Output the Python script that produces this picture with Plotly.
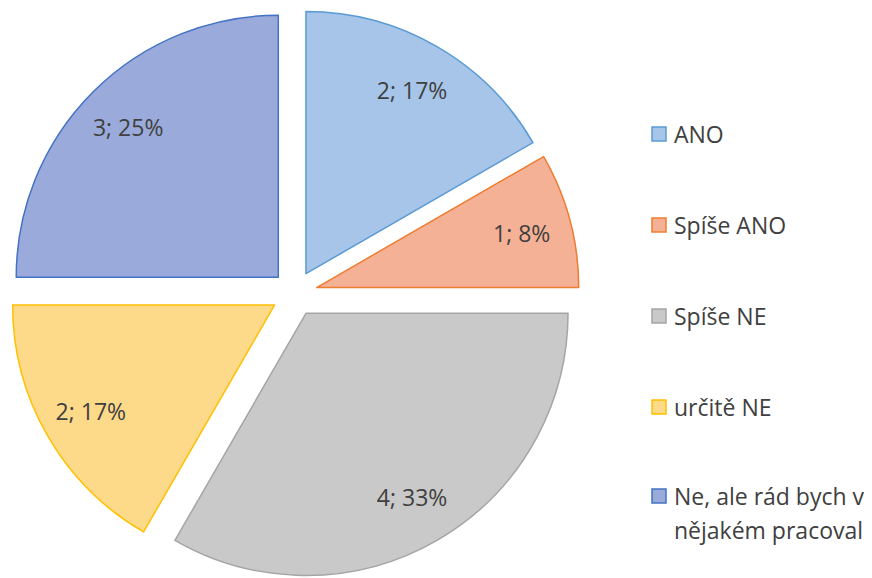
import plotly.graph_objects as go

labels = ["ANO", "Spíše ANO", "Spíše NE", "určitě NE", "Ne, ale rád bych v<br>nějakém pracoval"]
values = [2, 1, 4, 2, 3]
fill_colors = ["#A6C5E8", "#F5B195", "#C9C9C9", "#FDD98A", "#9AABDB"]
line_colors = ["#5B9BD5", "#ED7D31", "#A5A5A5", "#FFC000", "#4472C4"]

W, H = 872, 578
OFF = 8  # page body margin offset in the screenshot
font_family = "Open Sans, Lato, sans-serif"
text_color = "#404040"
PULL = 0.0875

dom = dict(x=[0.00172, 0.6554], y=[0.01298, 0.99913])

fig = go.Figure()
# filled slices
fig.add_trace(go.Pie(
    labels=labels, values=values, sort=False, direction="clockwise", rotation=0,
    pull=[PULL] * len(values),
    marker=dict(colors=fill_colors, line=dict(color=line_colors, width=1.5)),
    textinfo="none",
    hoverinfo="label+value+percent",
    showlegend=False, domain=dom,
))
# transparent ring carrying the data labels (places labels at ~0.8 of the radius)
fig.add_trace(go.Pie(
    labels=labels, values=values, sort=False, direction="clockwise", rotation=0,
    pull=[PULL] * len(values), hole=0.62,
    marker=dict(colors=["rgba(0,0,0,0)"] * len(values), line=dict(width=0)),
    texttemplate="%{value}; %{percent:.0%}",
    textposition="inside", insidetextorientation="horizontal",
    textfont=dict(family=font_family, size=23, color=text_color),
    hoverinfo="skip",
    showlegend=False, domain=dom,
))

# Manual legend (square swatch + label), spaced like the reference
shapes = []
annotations = []
row_y = [134, 225, 316, 407, 496]
line_gap = 34
for i, lab in enumerate(labels):
    yc = row_y[i] - OFF
    shapes.append(dict(
        type="rect", xref="paper", yref="paper",
        x0=(652 - OFF) / W, x1=(666 - OFF) / W, y0=1 - (yc + 7) / H, y1=1 - (yc - 7) / H,
        fillcolor=fill_colors[i], line=dict(color=line_colors[i], width=1.5),
    ))
    for j, part in enumerate(lab.split("<br>")):
        annotations.append(dict(
            xref="paper", yref="paper", x=(672 - OFF) / W, y=1 - (yc + j * line_gap) / H,
            xanchor="left", yanchor="middle", align="left",
            text=part, showarrow=False,
            font=dict(family=font_family, size=23, color=text_color),
        ))

fig.update_layout(
    width=W, height=H,
    margin=dict(l=0, r=0, t=0, b=0),
    paper_bgcolor="white", plot_bgcolor="white",
    shapes=shapes, annotations=annotations,
    font=dict(family=font_family, color=text_color),
)

fig.write_html("out.html")
